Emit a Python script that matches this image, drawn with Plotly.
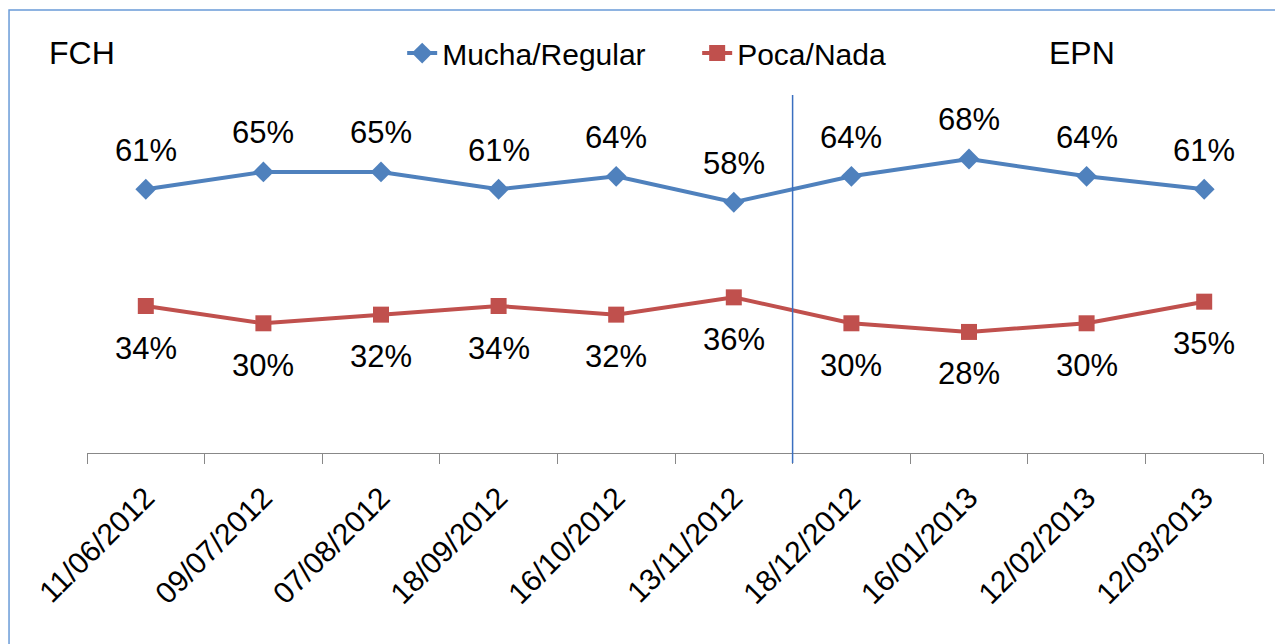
import plotly.graph_objects as go

dates = ["11/06/2012", "09/07/2012", "07/08/2012", "18/09/2012", "16/10/2012",
         "13/11/2012", "18/12/2012", "16/01/2013", "12/02/2013", "12/03/2013"]
mucha = [61, 65, 65, 61, 64, 58, 64, 68, 64, 61]
poca = [34, 30, 32, 34, 32, 36, 30, 28, 30, 35]

BLUE = "#4F81BD"
RED = "#C0504D"
FONT = "Arial, Liberation Sans, sans-serif"

fig = go.Figure()
fig.add_trace(go.Scatter(x=dates, y=mucha, name="Mucha/Regular", mode="lines+markers",
                         line=dict(color=BLUE, width=4),
                         marker=dict(symbol="diamond", size=16, color=BLUE)))
fig.add_trace(go.Scatter(x=dates, y=poca, name="Poca/Nada", mode="lines+markers",
                         line=dict(color=RED, width=4),
                         marker=dict(symbol="square", size=16, color=RED)))

ann = []
for d, v in zip(dates, mucha):
    ann.append(dict(x=d, y=v, text=f"{v}%", showarrow=False, yshift=39,
                    font=dict(size=31, color="black", family=FONT)))
for d, v in zip(dates, poca):
    ann.append(dict(x=d, y=v, text=f"{v}%", showarrow=False, yshift=-42,
                    font=dict(size=31, color="black", family=FONT)))
ann.append(dict(xref="paper", yref="paper", x=-0.034, y=1.117, xanchor="left", yanchor="middle",
                text="FCH", showarrow=False, font=dict(size=32, color="black", family=FONT)))
ann.append(dict(xref="paper", yref="paper", x=0.816, y=1.117, xanchor="left", yanchor="middle",
                text="EPN", showarrow=False, font=dict(size=32, color="black", family=FONT)))

shapes = [
    dict(type="rect", xref="paper", yref="paper", x0=-0.0663, x1=1.2, y0=-0.8, y1=1.2374,
         line=dict(color="#6A9BD8", width=1.5), fillcolor="rgba(0,0,0,0)", layer="below"),
    dict(type="line", xref="x", yref="paper", x0=5.5, x1=5.5, y0=-10/358, y1=1,
         line=dict(color="#3A6FC0", width=1.5)),
]

fig.update_layout(
    width=1275, height=636,
    margin=dict(l=79, r=20, t=87, b=191),
    paper_bgcolor="white", plot_bgcolor="white",
    font=dict(family=FONT, color="black"),
    showlegend=True,
    legend=dict(orientation="h", x=0.268, y=1.117, xanchor="left", yanchor="middle",
                font=dict(size=30, color="black", family=FONT),
                entrywidth=250, entrywidthmode="pixels",
                bgcolor="rgba(0,0,0,0)"),
    annotations=ann,
    shapes=shapes,
    xaxis=dict(type="category", tickangle=-45, tickson="boundaries", ticks="outside",
               ticklen=10, tickcolor="#888888", showline=True, linecolor="#888888",
               linewidth=1, showgrid=False, zeroline=False, ticklabelstandoff=14,
               tickfont=dict(size=30, color="black", family=FONT),
               range=[-0.5, 9.5]),
    yaxis=dict(range=[0, 82.8], visible=False, showgrid=False, zeroline=False),
)

fig.write_html("out.html")
